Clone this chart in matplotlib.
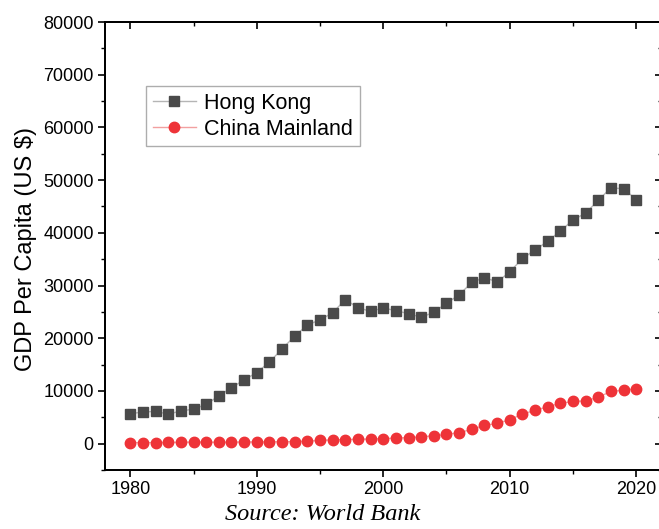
import matplotlib.pyplot as plt
from matplotlib.ticker import MultipleLocator, NullFormatter

# GDP per capita, current US$ (World Bank)
years = list(range(1980, 2021))
hong_kong = [5700, 5991, 6134, 5595, 6208, 6543, 7435, 9071, 10610, 12098,
             13486, 15466, 17976, 20396, 22503, 23497, 24818, 27330, 25809, 25092,
             25757, 25230, 24666, 23977, 24928, 26650, 28224, 30594, 31516, 30697,
             32550, 35142, 36731, 38404, 40315, 42432, 43732, 46166, 48543, 48356,
             46324]
china = [195, 197, 203, 225, 251, 294, 282, 252, 284, 311,
         318, 333, 366, 377, 473, 610, 709, 782, 829, 873,
         959, 1053, 1149, 1289, 1509, 1753, 2099, 2694, 3468, 3832,
         4550, 5614, 6301, 7020, 7636, 8016, 8094, 8817, 9905, 10144,
         10409]

plt.rcParams['font.family'] = ['Liberation Sans', 'DejaVu Sans']

fig = plt.figure(figsize=(6.59, 5.29), dpi=100)
ax = fig.add_axes([0.1593, 0.1115, 0.8445, 0.8469])

ax.plot(years, hong_kong, color='#b5b5b5', lw=1.0, marker='s', ms=7,
        mfc='#4a4a4a', mec='#4a4a4a', label='Hong Kong')
ax.plot(years, china, color='#f2a0a0', lw=1.0, marker='o', ms=7.5,
        mfc='#ee3338', mec='#ee3338', label='China Mainland')

xlim = (1978, 2022)
ylim = (-5000, 80000)
ax.set_xlim(*xlim)
ax.set_ylim(*ylim)
ax.xaxis.set_major_locator(MultipleLocator(10))
ax.xaxis.set_minor_locator(MultipleLocator(5))
ax.yaxis.set_major_locator(MultipleLocator(10000))
ax.yaxis.set_minor_locator(MultipleLocator(5000))

for s in ax.spines.values():
    s.set_linewidth(1.2)

ax.tick_params(axis='both', which='major', labelsize=13, length=5, width=1.2,
               direction='out', pad=3)
ax.tick_params(axis='both', which='minor', length=3, width=1.0, direction='out')

# inward ticks on top and right, no labels
axt = ax.twiny()
axt.set_xlim(*xlim)
axt.xaxis.set_major_locator(MultipleLocator(10))
axt.xaxis.set_minor_locator(MultipleLocator(5))
axt.xaxis.set_major_formatter(NullFormatter())
axt.tick_params(which='major', direction='in', length=5, width=1.2)
axt.tick_params(which='minor', direction='in', length=3, width=1.0)
axr = ax.twinx()
axr.set_ylim(*ylim)
axr.yaxis.set_major_locator(MultipleLocator(10000))
axr.yaxis.set_minor_locator(MultipleLocator(5000))
axr.yaxis.set_major_formatter(NullFormatter())
axr.tick_params(which='major', direction='in', length=5, width=1.2)
axr.tick_params(which='minor', direction='in', length=3, width=1.0)
for a in (axt, axr):
    for s in a.spines.values():
        s.set_linewidth(1.2)

ax.set_ylabel('GDP Per Capita (US $)', fontsize=17)
ax.yaxis.set_label_coords(-0.122, 0.493)

leg = axr.legend(*ax.get_legend_handles_labels(), loc='upper left',
                 bbox_to_anchor=(0.074, 0.857), borderaxespad=0, fontsize=15.5,
                 frameon=True, fancybox=False, edgecolor='#999999',
                 handlelength=2.0, handletextpad=0.4, borderpad=0.3,
                 labelspacing=0.25)
leg.get_frame().set_linewidth(1.0)

fig.text(0.49, 1 - 520 / 529, 'Source: World Bank', fontsize=17.5, style='italic',
         family=['Liberation Serif', 'DejaVu Serif'], ha='center', va='baseline')

fig.savefig('out.png', dpi=100)
